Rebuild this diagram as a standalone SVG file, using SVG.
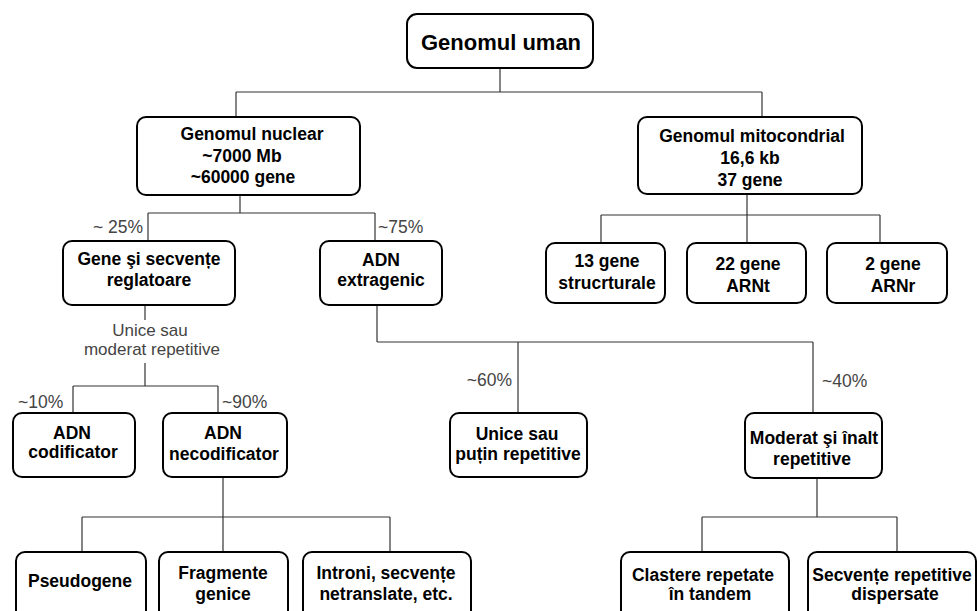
<svg xmlns="http://www.w3.org/2000/svg" width="977" height="611" viewBox="0 0 977 611">
  <style>
    .box rect { fill: #ffffff; stroke: #000000; stroke-width: 2; }
    .box text { font-family: "Liberation Sans", Arial, sans-serif; font-weight: bold; font-size: 17.5px; fill: #000000; text-anchor: middle; }
    .box.root text { font-size: 22px; }
    #connectors line { stroke: #333333; stroke-width: 1.2; }
    .lbl { font-family: "Liberation Sans", Arial, sans-serif; font-size: 17.5px; fill: #444444; }
    .lbl.small { font-size: 17px; text-anchor: middle; }
  </style>
  <rect width="977" height="611" fill="#ffffff"/>

  <!-- connectors -->
  <g id="connectors">
    <!-- Genomul uman -->
    <line x1="500" y1="68" x2="500" y2="92"/>
    <line x1="236" y1="92" x2="762" y2="92"/>
    <line x1="236" y1="92" x2="236" y2="117"/>
    <line x1="762" y1="92" x2="762" y2="117"/>
    <!-- Genomul nuclear -->
    <line x1="240" y1="195" x2="240" y2="213"/>
    <line x1="148" y1="213" x2="375" y2="213"/>
    <line x1="148" y1="213" x2="148" y2="241"/>
    <line x1="375" y1="213" x2="375" y2="241"/>
    <!-- Genomul mitocondrial -->
    <line x1="747" y1="194" x2="747" y2="215"/>
    <line x1="601" y1="215" x2="880" y2="215"/>
    <line x1="601" y1="215" x2="601" y2="243"/>
    <line x1="747" y1="215" x2="747" y2="243"/>
    <line x1="880" y1="215" x2="880" y2="243"/>
    <!-- Gene si secvente reglatoare -->
    <line x1="145" y1="305" x2="145" y2="320"/>
    <line x1="145" y1="363" x2="145" y2="386"/>
    <line x1="73" y1="386" x2="218" y2="386"/>
    <line x1="73" y1="386" x2="73" y2="413"/>
    <line x1="218" y1="386" x2="218" y2="413"/>
    <!-- ADN extragenic -->
    <line x1="377" y1="305" x2="377" y2="342"/>
    <line x1="377" y1="342" x2="813" y2="342"/>
    <line x1="518" y1="342" x2="518" y2="413"/>
    <line x1="813" y1="342" x2="813" y2="413"/>
    <!-- ADN necodificator -->
    <line x1="223" y1="477" x2="223" y2="517"/>
    <line x1="82" y1="517" x2="390" y2="517"/>
    <line x1="82" y1="517" x2="82" y2="552"/>
    <line x1="223" y1="517" x2="223" y2="552"/>
    <line x1="390" y1="517" x2="390" y2="552"/>
    <!-- Moderat si inalt repetitive -->
    <line x1="817" y1="478" x2="817" y2="517"/>
    <line x1="702" y1="517" x2="897" y2="517"/>
    <line x1="702" y1="517" x2="702" y2="552"/>
    <line x1="897" y1="517" x2="897" y2="552"/>
  </g>

  <!-- edge labels -->
  <g id="labels">
    <text class="lbl" x="143" y="233" text-anchor="end">~ 25%</text>
    <text class="lbl" x="378" y="233">~75%</text>
    <text class="lbl small" x="150" y="336">Unice sau</text>
    <text class="lbl small" x="152" y="355">moderat repetitive</text>
    <text class="lbl" x="18" y="408">~10%</text>
    <text class="lbl" x="222" y="408">~90%</text>
    <text class="lbl" x="512" y="386" text-anchor="end">~60%</text>
    <text class="lbl" x="822" y="387">~40%</text>
  </g>

  <!-- nodes -->
  <g id="genomul-uman" class="box root">
    <rect x="407" y="14" width="186" height="54" rx="10"/>
    <text x="501" y="50">Genomul uman</text>
  </g>

  <g id="genomul-nuclear" class="box">
    <rect x="137" y="117" width="223" height="78" rx="9"/>
    <text x="252" y="140">Genomul nuclear</text>
    <text x="242" y="161.5">~7000 Mb</text>
    <text x="243" y="183">~60000 gene</text>
  </g>

  <g id="genomul-mitocondrial" class="box">
    <rect x="638" y="117" width="224" height="77" rx="9"/>
    <text x="752" y="142">Genomul mitocondrial</text>
    <text x="750" y="164">16,6 kb</text>
    <text x="750" y="186">37 gene</text>
  </g>

  <g id="gene-secvente" class="box">
    <rect x="63" y="241" width="172" height="64" rx="9"/>
    <text x="149" y="265">Gene şi secvențe</text>
    <text x="149" y="286">reglatoare</text>
  </g>

  <g id="adn-extragenic" class="box">
    <rect x="320" y="241" width="122" height="64" rx="9"/>
    <text x="381" y="266">ADN</text>
    <text x="381" y="285.5">extragenic</text>
  </g>

  <g id="gene-structurale" class="box">
    <rect x="546" y="243" width="119" height="60" rx="9"/>
    <text x="607" y="267">13 gene</text>
    <text x="607" y="289">strucrturale</text>
  </g>

  <g id="gene-arnt" class="box">
    <rect x="687" y="243" width="119" height="60" rx="9"/>
    <text x="748" y="270">22 gene</text>
    <text x="748" y="291.5">ARNt</text>
  </g>

  <g id="gene-arnr" class="box">
    <rect x="827" y="243" width="120" height="60" rx="9"/>
    <text x="893" y="270">2 gene</text>
    <text x="893" y="291.5">ARNr</text>
  </g>

  <g id="adn-codificator" class="box">
    <rect x="13" y="413" width="122" height="64" rx="9"/>
    <text x="72" y="439">ADN</text>
    <text x="73" y="458">codificator</text>
  </g>

  <g id="adn-necodificator" class="box">
    <rect x="163" y="413" width="124" height="64" rx="9"/>
    <text x="223" y="439">ADN</text>
    <text x="224" y="460">necodificator</text>
  </g>

  <g id="unice-putin-repetitive" class="box">
    <rect x="450" y="413" width="137" height="64" rx="9"/>
    <text x="517" y="440">Unice sau</text>
    <text x="518" y="460">puțin repetitive</text>
  </g>

  <g id="moderat-inalt-repetitive" class="box">
    <rect x="745" y="413" width="137" height="65" rx="9"/>
    <text x="814" y="444">Moderat şi înalt</text>
    <text x="812" y="465">repetitive</text>
  </g>

  <g id="pseudogene" class="box">
    <rect x="16" y="552" width="130" height="70" rx="9"/>
    <text x="80" y="587">Pseudogene</text>
  </g>

  <g id="fragmente-genice" class="box">
    <rect x="159" y="552" width="129" height="70" rx="9"/>
    <text x="223" y="579">Fragmente</text>
    <text x="223" y="600">genice</text>
  </g>

  <g id="introni" class="box">
    <rect x="303" y="552" width="168" height="70" rx="9"/>
    <text x="386" y="579">Introni, secvențe</text>
    <text x="386" y="600">netranslate, etc.</text>
  </g>

  <g id="clastere-tandem" class="box">
    <rect x="621" y="552" width="168" height="70" rx="9"/>
    <text x="703" y="581">Clastere repetate</text>
    <text x="710" y="600">în tandem</text>
  </g>

  <g id="secvente-dispersate" class="box">
    <rect x="808" y="552" width="168" height="70" rx="9"/>
    <text x="892" y="581">Secvențe repetitive</text>
    <text x="895" y="600">dispersate</text>
  </g>
</svg>
